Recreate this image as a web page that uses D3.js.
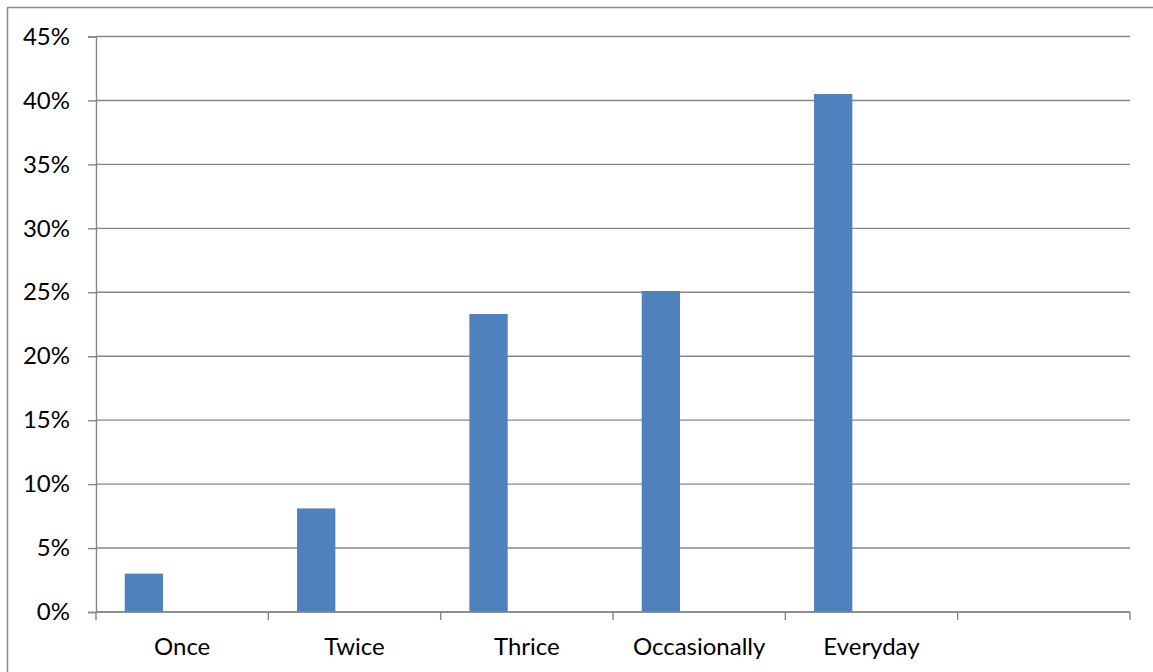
<!DOCTYPE html>
<html>
<head>
<meta charset="utf-8">
<script src="https://cdn.jsdelivr.net/npm/d3@7"></script>
<style>
  html, body { margin: 0; padding: 0; background: #fff; }
  svg { display: block; }
  text { font-family: Lato, "Open Sans", sans-serif; fill: #000; }
</style>
</head>
<body>
<svg id="chart" width="1153" height="672"></svg>
<script>
// How often: share of respondents per frequency answer
const categories = ["Once", "Twice", "Thrice", "Occasionally", "Everyday", ""];
const shares = [3.0, 8.1, 23.3, 25.1, 40.5, null];
const yTicks = [0, 5, 10, 15, 20, 25, 30, 35, 40, 45];
// clustered layout slots: only the first slot in each group carries data
const clusterSlots = [0, 1, 2];

const W = 1153, H = 672;
const plot = { left: 96, right: 1130, top: 36.5, bottom: 612 };
const gridColor = "#878787";
const barColor = "#4F81BD";
const fontSize = 24;

const svg = d3.select("#chart");

// chart area frame
svg.append("rect")
  .attr("x", 7.5).attr("y", 7.5)
  .attr("width", W).attr("height", H)
  .attr("fill", "#fff")
  .attr("stroke", "#888").attr("stroke-width", 1.5);

const x = d3.scaleBand()
  .domain(d3.range(categories.length))
  .range([plot.left, plot.right])
  .paddingInner(0).paddingOuter(0);

const xInner = d3.scaleBand()
  .domain(clusterSlots)
  .range([0, x.bandwidth()])
  .paddingInner(0).paddingOuter(0.75);

const y = d3.scaleLinear().domain([0, 45]).range([plot.bottom, plot.top]);

// horizontal gridlines
svg.append("g")
  .selectAll("line")
  .data(yTicks)
  .join("line")
  .attr("x1", plot.left).attr("x2", plot.right)
  .attr("y1", d => y(d)).attr("y2", d => y(d))
  .attr("stroke", gridColor).attr("stroke-width", 1.4);

// y axis
const yAxis = d3.axisLeft(y)
  .tickValues(yTicks)
  .tickFormat(d => d + "%")
  .tickSize(8)
  .tickPadding(18);
const gy = svg.append("g")
  .attr("transform", `translate(${plot.left},0)`)
  .call(yAxis);
gy.select(".domain").attr("stroke", gridColor).attr("stroke-width", 1.4);
gy.selectAll(".tick line").attr("stroke", gridColor).attr("stroke-width", 1.4);
gy.selectAll(".tick text")
  .attr("font-size", fontSize)
  .attr("font-family", "Lato, sans-serif")
  .attr("fill", "#000");

// bars
svg.append("g")
  .selectAll("rect")
  .data(shares.map((v, i) => ({ v, i })).filter(d => d.v != null))
  .join("rect")
  .attr("x", d => x(d.i) + xInner(0))
  .attr("width", xInner.bandwidth())
  .attr("y", d => y(d.v))
  .attr("height", d => y(0) - y(d.v))
  .attr("fill", barColor);

// x axis: category boundaries as ticks
const xEdges = d3.range(categories.length + 1);
const xEdge = d3.scaleLinear().domain([0, categories.length]).range([plot.left, plot.right]);
svg.append("line")
  .attr("x1", plot.left).attr("x2", plot.right)
  .attr("y1", y(0)).attr("y2", y(0))
  .attr("stroke", gridColor).attr("stroke-width", 1.4);
svg.append("g")
  .selectAll("line")
  .data(xEdges)
  .join("line")
  .attr("x1", d => xEdge(d)).attr("x2", d => xEdge(d))
  .attr("y1", y(0)).attr("y2", y(0) + 8)
  .attr("stroke", gridColor).attr("stroke-width", 1.4);

svg.append("g")
  .selectAll("text")
  .data(categories)
  .join("text")
  .attr("x", (d, i) => x(i) + x.bandwidth() / 2)
  .attr("y", 655)
  .attr("text-anchor", "middle")
  .attr("font-size", fontSize)
  .text(d => d);
</script>
</body>
</html>
